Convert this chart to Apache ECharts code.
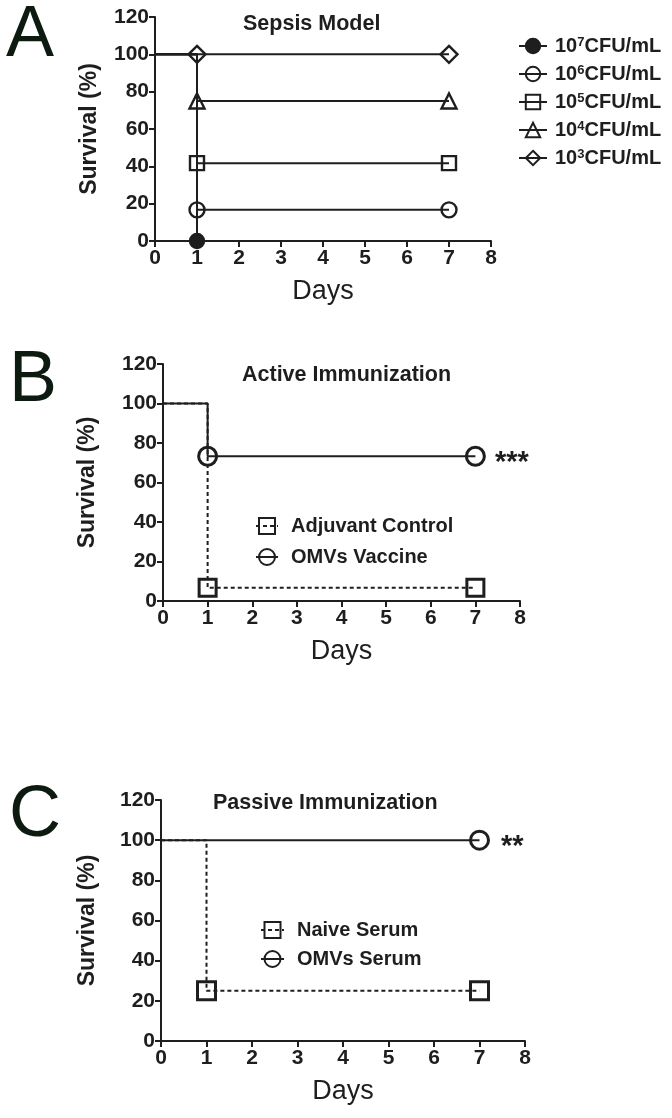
<!DOCTYPE html>
<html><head><meta charset="utf-8">
<script src="https://cdn.jsdelivr.net/npm/echarts@6/dist/echarts.min.js"></script>
<style>html,body{margin:0;padding:0;background:#fff}#c{width:672px;height:1118px}</style>
</head><body><div id="c"></div>
<script>
// ---------- data ----------
const days = [0, 1, 7];
const xTicks = [0, 1, 2, 3, 4, 5, 6, 7, 8];
const yTicks = [0, 20, 40, 60, 80, 100, 120];

// Panel A: Sepsis model
const sepsisNames = ['10^7CFU/mL', '10^6CFU/mL', '10^5CFU/mL', '10^4CFU/mL', '10^3CFU/mL'];
const sepsis7 = [100, 0];
const sepsis6 = [100, 16.7, 16.7];
const sepsis5 = [100, 41.7, 41.7];
const sepsis4 = [100, 75, 75];
const sepsis3 = [100, 100, 100];
const sepsisMarks = [false, true, true];

// Panel B: Active immunization
const activeNames = ['Adjuvant Control', 'OMVs Vaccine'];
const adjuvant = [100, 6.7, 6.7];
const omvVaccine = [100, 73.3, 73.3];
const activeMarks = [false, true, true];
const activeSig = '***';

// Panel C: Passive immunization
const passiveNames = ['Naive Serum', 'OMVs Serum'];
const naiveSerum = [100, 25, 25];
const omvSerum = [100, 100, 100];
const naiveMarks = [false, true, true];
const omvSerumMarks = [false, false, true];
const passiveSig = '**';

const titles = ['Sepsis Model', 'Active Immunization', 'Passive Immunization'];
const letters = ['A', 'B', 'C'];

// ---------- style ----------
const FONT = 'Liberation Sans';
const INK = '#1e1e1e';

function buildData(vals, marks, sig, sigStyle) {
  return vals.map((v, i) => {
    const d = { value: [days[i], v] };
    if (!marks[i]) d.symbol = 'none';
    if (sig && i === vals.length - 1) {
      d.label = Object.assign({ show: true, position: 'right', formatter: sig,
        fontFamily: FONT, fontWeight: 'bold', fontSize: 29, color: INK }, sigStyle);
    }
    return d;
  });
}

function km(name, data, gi, symbol, size, opts) {
  opts = opts || {};
  return {
    type: 'line', name: name, xAxisIndex: gi, yAxisIndex: gi,
    data: data, step: 'end', symbol: symbol, symbolSize: size,
    clip: false, animation: false, z: opts.z || 2,
    lineStyle: { color: INK, width: 2, type: opts.dashed ? [4, 3] : 'solid' },
    itemStyle: { color: opts.fill || 'rgba(0,0,0,0)', borderColor: INK, borderWidth: opts.bw || 2.4 },
    emphasis: { disabled: true }
  };
}

const grids = [
  { left: 155, top: 17, width: 336, height: 224 },
  { left: 163, top: 364, width: 357, height: 237 },
  { left: 161, top: 800, width: 364, height: 241 }
];
const yNameGaps = [54, 64, 62];

const xAxes = grids.map((g, i) => ({
  type: 'value', gridIndex: i, min: xTicks[0], max: xTicks[xTicks.length - 1], interval: 1,
  axisLine: { show: true, onZero: false, lineStyle: { color: INK, width: 2 } },
  axisTick: { show: true, length: 6, lineStyle: { color: INK, width: 2 } },
  axisLabel: { fontFamily: FONT, fontWeight: 'bold', fontSize: 21, color: INK, margin: 7 },
  splitLine: { show: false },
  name: 'Days', nameLocation: 'middle', nameGap: 37,
  nameTextStyle: { fontFamily: FONT, fontSize: 27, color: INK }
}));
const yAxes = grids.map((g, i) => ({
  type: 'value', gridIndex: i, min: yTicks[0], max: yTicks[yTicks.length - 1], interval: 20,
  axisLine: { show: true, onZero: false, lineStyle: { color: INK, width: 2 } },
  axisTick: { show: true, length: 6, lineStyle: { color: INK, width: 2 } },
  axisLabel: { fontFamily: FONT, fontWeight: 'bold', fontSize: 21, color: INK, margin: 6 },
  splitLine: { show: false },
  name: 'Survival (%)', nameLocation: 'middle', nameGap: yNameGaps[i], nameRotate: 90,
  nameTextStyle: { fontFamily: FONT, fontWeight: 'bold', fontSize: 23, color: INK }
}));

const series = [
  km(sepsisNames[0], buildData(sepsis7, sepsisMarks), 0, 'circle', 14, { fill: INK }),
  km(sepsisNames[1], buildData(sepsis6, sepsisMarks), 0, 'circle', 15),
  km(sepsisNames[2], buildData(sepsis5, sepsisMarks), 0, 'rect', 14),
  km(sepsisNames[3], buildData(sepsis4, sepsisMarks), 0, 'triangle', 15),
  km(sepsisNames[4], buildData(sepsis3, sepsisMarks), 0, 'diamond', 17),

  km(activeNames[0], buildData(adjuvant, activeMarks), 1, 'rect', 17, { dashed: true, bw: 3, z: 2 }),
  km(activeNames[1], buildData(omvVaccine, activeMarks, activeSig, { distance: 9, offset: [0, 7] }), 1, 'circle', 18, { bw: 3, z: 3 }),

  km(passiveNames[0], buildData(naiveSerum, naiveMarks), 2, 'rect', 18, { dashed: true, bw: 3, z: 2 }),
  km(passiveNames[1], buildData(omvSerum, omvSerumMarks, passiveSig, { distance: 11, offset: [0, 7] }), 2, 'circle', 18, { bw: 3, z: 3 })
];

const legendText = { fontFamily: FONT, fontWeight: 'bold', fontSize: 20, color: INK };
const legends = [
  {
    data: sepsisNames, orient: 'vertical', left: 513, top: 31, itemWidth: 28, itemHeight: 18, itemGap: 8,
    formatter: n => n.replace(/^10\^(\d)(.*)$/, '{n|10}{sup|$1}{n|$2}'),
    textStyle: Object.assign({}, legendText, { padding: [0, 0, 0, 3], lineHeight: 20,
      rich: { n: Object.assign({}, legendText, { lineHeight: 20 }),
              sup: Object.assign({}, legendText, { fontSize: 13, lineHeight: 20, verticalAlign: 'top' }) } })
  },
  {
    data: activeNames, orient: 'vertical', left: 250, top: 511, itemWidth: 22, itemHeight: 20, itemGap: 11,
    textStyle: Object.assign({}, legendText, { padding: [0, 0, 0, 8] })
  },
  {
    data: passiveNames, orient: 'vertical', left: 255, top: 915, itemWidth: 23, itemHeight: 20, itemGap: 9,
    textStyle: Object.assign({}, legendText, { padding: [0, 0, 0, 8] })
  }
].map(l => Object.assign({ selectedMode: false, inactiveColor: INK }, l));

const titleDefs = [
  { left: 243, top: 13 }, { left: 242, top: 364 }, { left: 213, top: 792 }
];
const titleOpts = titles.map((t, i) => ({
  text: t, left: titleDefs[i].left, top: titleDefs[i].top, padding: 0,
  textStyle: { fontFamily: FONT, fontWeight: 'bold', fontSize: 21.5, color: INK }
}));

const letterPos = [[6, 0], [9, 345], [9, 780]];
const graphic = letters.map((L, i) => ({
  type: 'text', left: letterPos[i][0], top: letterPos[i][1],
  style: { text: L, font: '72px "Liberation Sans"', fill: '#0c1a10' }
}));

const chart = echarts.init(document.getElementById('c'), null, { renderer: 'canvas' });
chart.setOption({
  backgroundColor: '#ffffff',
  animation: false,
  title: titleOpts,
  grid: grids,
  xAxis: xAxes,
  yAxis: yAxes,
  legend: legends,
  series: series,
  graphic: graphic
});
</script></body></html>
